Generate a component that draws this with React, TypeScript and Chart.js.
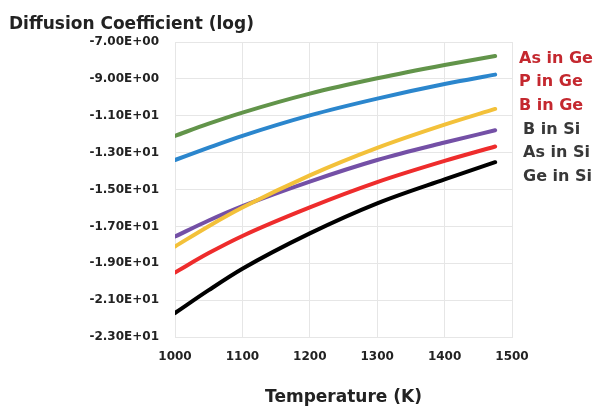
import React, { useEffect, useRef } from 'react';
import { Chart, registerables } from 'chart.js';

Chart.register(...registerables);

// Temperature (K)
const temperatures = [1000, 1050, 1100, 1200, 1300, 1400, 1475];

// Diffusion coefficient (log)
const asInGe = [-12.09, -11.43, -10.83, -9.80, -8.97, -8.25, -7.76];
const pInGe = [-13.40, -12.73, -12.09, -10.98, -10.07, -9.28, -8.77];
const bInGe = [-18.09, -16.99, -15.98, -14.23, -12.74, -11.48, -10.63];
const bInSi = [-17.55, -16.68, -15.90, -14.57, -13.40, -12.45, -11.79];
const asInSi = [-19.50, -18.45, -17.52, -15.97, -14.60, -13.45, -12.67];
const geInSi = [-21.70, -20.46, -19.30, -17.38, -15.75, -14.45, -13.52];

const seriesNames = ['As in Ge', 'P in Ge', 'B in Ge', 'B in Si', 'As in Si', 'Ge in Si'];
const seriesValues = [asInGe, pInGe, bInGe, bInSi, asInSi, geInSi];
const seriesColors = ['#62944A', '#2B86CD', '#F3C13A', '#7450A6', '#EE2C2C', '#000000'];
const labelColors = ['#C4282F', '#C4282F', '#C4282F', '#383838', '#383838', '#383838'];

const chartTitle = 'Diffusion Coefficient (log)';
const xTitle = 'Temperature (K)';
const xMin = 1000;
const xMax = 1500;
const xStep = 100;
const yMin = -23;
const yMax = -7;
const yStep = 2;

const FONT = '"DejaVu Sans", sans-serif';
const TEXT = '#222222';
const GRID = '#e6e6e6';

function sci(v: number): string {
  if (v === 0) return '0.00E+00';
  const exp = Math.floor(Math.log10(Math.abs(v)) + 1e-9);
  const mant = v / Math.pow(10, exp);
  const sign = exp >= 0 ? '+' : '-';
  return `${mant.toFixed(2)}E${sign}${String(Math.abs(exp)).padStart(2, '0')}`;
}

const sideLabels = {
  id: 'sideLabels',
  afterDraw(chart: any) {
    const { ctx, chartArea } = chart;
    ctx.save();
    ctx.font = `bold 16px ${FONT}`;
    ctx.textAlign = 'left';
    ctx.textBaseline = 'alphabetic';
    seriesNames.forEach((name, i) => {
      ctx.fillStyle = labelColors[i];
      const x = chartArea.right + (i < 3 ? 7 : 11);
      const y = chartArea.top + 20.7 + i * 23.6;
      ctx.fillText(name, x, y);
    });
    ctx.restore();
  },
};

export default function App() {
  const ref = useRef<HTMLCanvasElement | null>(null);

  useEffect(() => {
    document.body.style.margin = '0';
    const canvas = ref.current;
    if (!canvas) return;
    const chart = new Chart(canvas, {
      type: 'line',
      data: {
        datasets: seriesNames.map((name, i) => ({
          label: name,
          data: temperatures.map((t, j) => ({ x: t, y: seriesValues[i][j] })),
          borderColor: seriesColors[i],
          backgroundColor: seriesColors[i],
          borderWidth: 4,
          pointRadius: 0,
          fill: false,
          cubicInterpolationMode: 'monotone',
          borderCapStyle: 'round',
          borderJoinStyle: 'round',
        })),
      },
      options: {
        responsive: false,
        animation: false,
        devicePixelRatio: 1,
        layout: { padding: { left: 9, right: 83, top: 0, bottom: 0 } },
        plugins: {
          legend: { display: false },
          tooltip: { enabled: false },
          title: {
            display: true,
            text: chartTitle,
            align: 'start',
            color: TEXT,
            font: { family: FONT, size: 17, weight: 'bold', lineHeight: 1.2 },
            padding: { top: 14, bottom: 7.6 },
          },
        },
        scales: {
          x: {
            type: 'linear',
            min: xMin,
            max: xMax,
            ticks: {
              stepSize: xStep,
              color: TEXT,
              font: { family: FONT, size: 12, weight: 'bold' },
              padding: 13,
              callback: (v: any) => String(v),
            },
            grid: { color: GRID, drawTicks: false, lineWidth: 1 },
            border: { color: GRID },
            title: {
              display: true,
              text: xTitle,
              color: TEXT,
              font: { family: FONT, size: 17, weight: 'bold', lineHeight: 1 },
              padding: { top: 0, bottom: 0 },
            },
            afterFit: (s: any) => {
              s.height = 69;
            },
          },
          y: {
            type: 'linear',
            min: yMin,
            max: yMax,
            ticks: {
              stepSize: yStep,
              color: TEXT,
              font: { family: FONT, size: 12, weight: 'bold' },
              padding: 16,
              callback: (v: any) => sci(Number(v)),
            },
            grid: { color: GRID, drawTicks: false, lineWidth: 1 },
            border: { color: GRID },
            afterFit: (s: any) => {
              s.width = 166;
            },
          },
        },
      } as any,
      plugins: [sideLabels],
    });
    return () => chart.destroy();
  }, []);

  return (
    <div style={{ width: 595, height: 406, background: '#ffffff' }}>
      <canvas ref={ref} width={595} height={406} style={{ display: 'block', width: 595, height: 406 }} />
    </div>
  );
}
